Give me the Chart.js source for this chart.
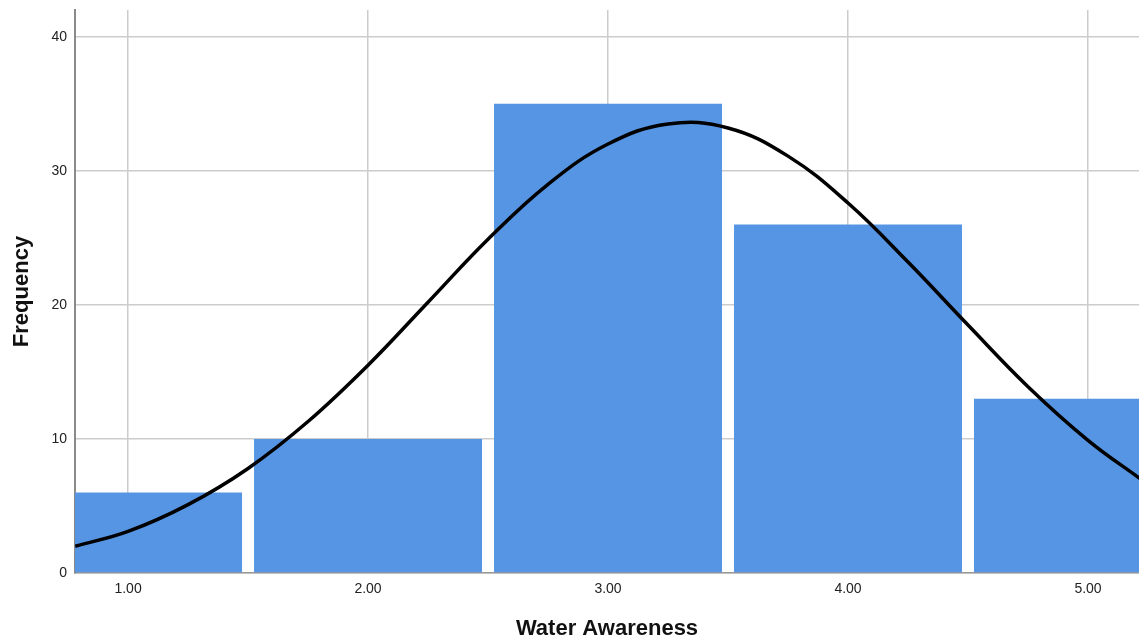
<!DOCTYPE html>
<html>
<head>
<meta charset="utf-8">
<script src="https://cdn.jsdelivr.net/npm/chart.js@4/dist/chart.umd.min.js"></script>
<style>
  html, body { margin: 0; padding: 0; background: #ffffff; }
  #wrap { width: 1139px; height: 643px; }
</style>
</head>
<body>
<div id="wrap"><canvas id="c" width="1139" height="643"></canvas></div>
<script>
// ---- data ----
const binCenters = [1, 2, 3, 4, 5];
const frequencies = [6, 10, 35, 26, 13];
const curveX = [0.78, 1.0, 1.25, 1.5, 1.75, 2.0, 2.25, 2.5, 2.75, 3.0, 3.25, 3.5, 3.75, 4.0, 4.25, 4.5, 4.75, 5.0, 5.22];
const curveY = [2.0, 3.1, 5.1, 7.8, 11.3, 15.5, 20.2, 24.9, 29.0, 32.0, 33.5, 33.2, 31.1, 27.6, 23.2, 18.5, 13.9, 9.9, 7.0];
const xTicks = [1, 2, 3, 4, 5];
const xTickLabels = ['1.00', '2.00', '3.00', '4.00', '5.00'];
const yTicks = [0, 10, 20, 30, 40];
const yTickLabels = ['0', '10', '20', '30', '40'];
const xTitle = 'Water Awareness';
const yTitle = 'Frequency';

const barData = binCenters.map((x, i) => ({ x: x, y: frequencies[i] }));
const curveData = curveX.map((x, i) => ({ x: x, y: curveY[i] }));

const FONT = '"Liberation Sans", Arial, sans-serif';

new Chart(document.getElementById('c'), {
  type: 'bar',
  data: {
    datasets: [
      {
        type: 'line',
        data: curveData,
        borderColor: '#000000',
        borderWidth: 3.5,
        pointRadius: 0,
        tension: 0.4,
        fill: false,
        order: 0
      },
      {
        type: 'bar',
        data: barData,
        backgroundColor: '#5595e3',
        borderWidth: 0,
        barPercentage: 0.95,
        categoryPercentage: 1.0,
        clip: 0,
        order: 1
      }
    ]
  },
  options: {
    responsive: false,
    animation: false,
    layout: { padding: { top: 10, left: 0, right: 0, bottom: 0 } },
    plugins: { legend: { display: false }, tooltip: { enabled: false } },
    scales: {
      x: {
        type: 'linear',
        offset: false,
        min: 0.779,
        max: 5.2125,
        afterBuildTicks: (s) => { s.ticks = xTicks.map(v => ({ value: v })); },
        afterFit: (s) => { s.height = 70; s.paddingLeft = 0; s.paddingRight = 0; },
        ticks: {
          callback: (v) => xTickLabels[xTicks.indexOf(v)],
          color: '#222222',
          font: { family: FONT, size: 14 },
          padding: 8,
          maxRotation: 0,
          autoSkip: false
        },
        grid: { color: '#cccccc', lineWidth: 1.5, drawTicks: false, offset: false },
        border: { display: true, color: '#9a9a9a', width: 1.5 },
        title: {
          display: true,
          text: xTitle,
          color: '#111111',
          font: { family: FONT, size: 22, weight: 'bold' },
          padding: { top: 0, bottom: 1 }
        }
      },
      y: {
        type: 'linear',
        min: 0,
        max: 42,
        afterBuildTicks: (s) => { s.ticks = yTicks.map(v => ({ value: v })); },
        afterFit: (s) => { s.width = 75; s.paddingTop = 0; s.paddingBottom = 0; },
        ticks: {
          callback: (v) => yTickLabels[yTicks.indexOf(v)],
          color: '#222222',
          font: { family: FONT, size: 14 },
          padding: 8
        },
        grid: { color: '#cccccc', lineWidth: 1.5, drawTicks: false },
        border: { display: true, color: '#8a8a8a', width: 2 },
        title: {
          display: true,
          text: yTitle,
          color: '#111111',
          font: { family: FONT, size: 22, weight: 'bold' },
          padding: { top: 9, bottom: 0 }
        }
      }
    }
  }
});
</script>
</body>
</html>
